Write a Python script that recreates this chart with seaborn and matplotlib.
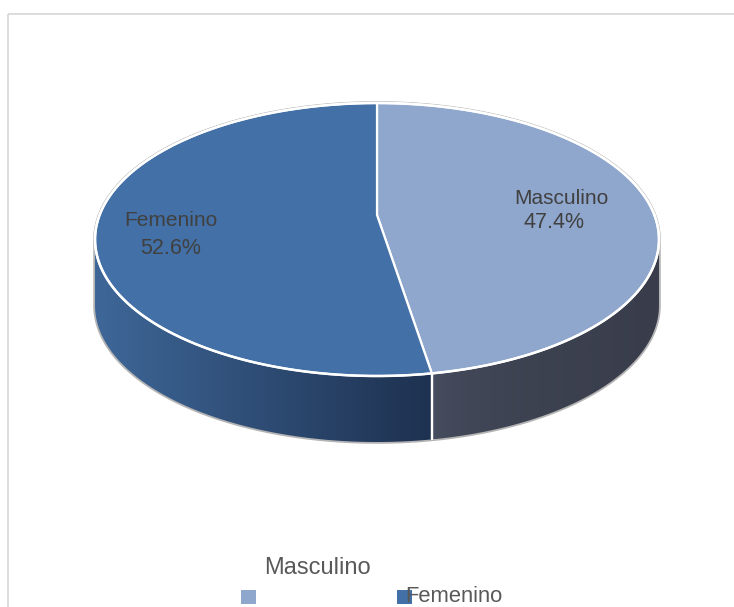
import numpy as np
import matplotlib
matplotlib.use("Agg")
import matplotlib.pyplot as plt
from matplotlib.patches import Polygon, Rectangle
from matplotlib.colors import LinearSegmentedColormap
import seaborn as sns

# Gender split of respondents (percent)
categories = ["Masculino", "Femenino"]
shares = [47.4, 52.6]
legend_labels = ["Masculino", "Femenino"]

sns.set_theme(style="white")
plt.rcParams["font.family"] = ["Liberation Sans", "DejaVu Sans"]

top_colors = sns.color_palette(["#8FA7CD", "#4370A6"])
side_light = ["#4A5265", "#3E6798"]
side_dark = ["#393D4B", "#1E3150"]
text_color = "#404040"

W, H = 734, 607
fig = plt.figure(figsize=(W / 100, H / 100), dpi=100)
ax = fig.add_axes([0, 0, 1, 1])

# 3-D pie in a simple perspective view (pixel space, y pointing down)
cx, cy = 377, 215          # projected pie centre
kx, ky = 277.4, 132.1      # horizontal / vertical radius scale
persp = 0.1795             # foreshortening of the far half
depth = 66


def disc(t, dy=0.0):
    X, Y = np.cos(t), np.sin(t)
    w = 1 + persp * Y
    return np.column_stack([cx + kx * X / w, cy - ky * Y / w + dy])


# slice angles, clockwise from 12 o'clock
starts, ends = [], []
acc = 0.0
total = sum(shares)
for s in shares:
    t0 = np.deg2rad(90 - acc / total * 360)
    acc += s
    t1 = np.deg2rad(90 - acc / total * 360)
    starts.append(t0)
    ends.append(t1)

# the side wall is visible between the two silhouette points
vis_lo, vis_hi = -np.pi + np.arcsin(persp), -np.arcsin(persp)

# outer silhouette (soft grey rim)
tt_back = np.linspace(vis_hi, vis_lo + 2 * np.pi, 300)
tt_front = np.linspace(vis_lo, vis_hi, 300)
sil = np.vstack([disc(tt_back), disc(tt_front, depth)])
ax.add_patch(Polygon(sil, closed=True, facecolor="none", edgecolor="#B4B4B4",
                     lw=2.6, zorder=1))

# visible side walls with horizontal shading
for i, (t0, t1) in enumerate(zip(starts, ends)):
    hi, lo = t0, t1
    for k in (-1, 0):
        vlo = max(lo, vis_lo + 2 * np.pi * k)
        vhi = min(hi, vis_hi + 2 * np.pi * k)
        if vhi <= vlo:
            continue
        tt = np.linspace(vlo, vhi, 200)
        poly_pts = np.vstack([disc(tt), disc(tt[::-1], depth)])
        poly = Polygon(poly_pts, closed=True, facecolor="none", edgecolor="none", zorder=2)
        ax.add_patch(poly)
        x0, x1 = poly_pts[:, 0].min(), poly_pts[:, 0].max()
        y0, y1 = poly_pts[:, 1].min(), poly_pts[:, 1].max()
        cmap = LinearSegmentedColormap.from_list("side%d" % i, [side_light[i], side_dark[i]])
        grad = np.linspace(0, 1, 256)[None, :]
        if i == 0:
            grad = grad ** 0.35
        im = ax.imshow(grad, cmap=cmap, extent=(x0, x1, y1, y0), aspect="auto",
                       zorder=2, interpolation="bilinear")
        im.set_clip_path(poly)

# seams between side walls
for t in starts + ends:
    tm = (t - vis_lo) % (2 * np.pi) + vis_lo
    if vis_lo < tm < vis_hi:
        p = disc(np.array([tm]))[0]
        ax.plot([p[0], p[0]], [p[1], p[1] + depth], color="white", lw=1.6, zorder=3)

# top faces
for i, (t0, t1) in enumerate(zip(starts, ends)):
    tt = np.linspace(t0, t1, 300)
    pts = np.vstack([[cx, cy], disc(tt)])
    ax.add_patch(Polygon(pts, closed=True, facecolor=top_colors[i], edgecolor="white",
                         lw=1.6, joinstyle="round", zorder=4))

# white rim around the top face
tt_all = np.linspace(0, 2 * np.pi, 400)
ax.plot(*disc(tt_all).T, color="white", lw=1.8, zorder=5)

# data labels on the slices
label_pos = [(561, 199, 554, 223), (171, 220, 171, 248)]
for name, val, (nx, ny, vx, vy) in zip(categories, shares, label_pos):
    ax.text(nx, ny, name, ha="center", va="center", fontsize=15, color=text_color, zorder=6)
    ax.text(vx, vy, f"{val:.1f}%", ha="center", va="center", fontsize=15.5,
            color=text_color, zorder=6)

# legend
ax.add_patch(Rectangle((241, 590), 15, 14, facecolor=top_colors[0], edgecolor="none", zorder=6))
ax.add_patch(Rectangle((397, 590), 15, 14, facecolor=top_colors[1], edgecolor="none", zorder=6))
ax.text(317, 568, legend_labels[0], ha="center", va="center", fontsize=17,
        color="#595959", zorder=7)
ax.text(454, 596, legend_labels[1], ha="center", va="center", fontsize=15.8,
        color="#595959", zorder=7)

# chart area frame
ax.add_patch(Rectangle((7.5, 13.5), 900, 900, facecolor="none", edgecolor="#D9D9D9",
                       lw=1.3, zorder=0))

ax.set_xlim(0, W)
ax.set_ylim(H, 0)
ax.axis("off")
fig.savefig("out.png", dpi=100)
